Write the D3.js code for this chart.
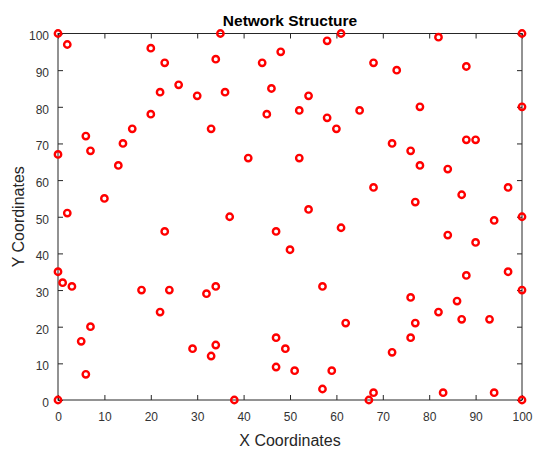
<!DOCTYPE html>
<html><head><meta charset="utf-8">
<script src="https://cdn.jsdelivr.net/npm/d3@7"></script>
<style>body{margin:0;background:#fff}svg{display:block}</style>
</head><body>
<div id="chart"></div>
<script>
const xValues = [0,2,20,23,35,34,26,22,30,36,20,16,33,6,7,0,14,13,10,2,37,41,44,48,46,45,58,61,82,100,68,73,88,54,52,58,60,65,78,100,88,90,72,76,78,84,52,68,77,87,97,54,94,100,61,84,90,50,97,88,57,100,76,86,82,87,93,62,77,76,72,49,51,59,57,68,67,83,94,100,47,47,47,23,0,1,3,18,24,22,32,34,7,5,6,0,29,34,33,38];
const yValues = [100,97,96,92,100,93,86,84,83,84,78,74,74,72,68,67,70,64,55,51,50,66,92,95,85,78,98,100,99,100,92,90,91,83,79,77,74,79,80,80,71,71,70,68,64,63,66,58,54,56,58,52,49,50,47,45,43,41,35,34,31,30,28,27,24,22,22,21,21,17,13,14,8,8,3,2,0,2,2,0,46,17,9,46,35,32,31,30,30,24,29,31,20,16,7,0,14,15,12,0];
const xTicks = [0,10,20,30,40,50,60,70,80,90,100];
const yTicks = [0,10,20,30,40,50,60,70,80,90,100];
const titleText = "Network Structure";
const xLabel = "X Coordinates";
const yLabel = "Y Coordinates";

const W = 550, H = 453;
const m = {left: 58, right: 28, top: 33.5, bottom: 53};
const svg = d3.select("#chart").append("svg").attr("width", W).attr("height", H);
const x = d3.scaleLinear().domain([0,100]).range([m.left, W - m.right]);
const y = d3.scaleLinear().domain([0,100]).range([H - m.bottom, m.top]);
const font = "Arial, 'Liberation Sans', Helvetica, sans-serif";
const axColor = "#262626";

function styleAxis(g, showText) {
  g.select(".domain").remove();
  g.selectAll(".tick line").attr("stroke", axColor).attr("stroke-width", 1);
  g.selectAll(".tick text").attr("fill", "#333333").attr("font-size", 12).attr("font-family", font);
  if (!showText) g.selectAll(".tick text").remove();
}
// bottom
svg.append("g").attr("transform", `translate(0,${y(0)})`)
  .call(d3.axisBottom(x).tickValues(xTicks).tickSizeInner(-5).tickSizeOuter(0).tickPadding(12))
  .call(g => styleAxis(g, true));
// top
svg.append("g").attr("transform", `translate(0,${y(100)})`)
  .call(d3.axisTop(x).tickValues(xTicks).tickSizeInner(-5).tickSizeOuter(0))
  .call(g => styleAxis(g, false));
// left
svg.append("g").attr("transform", `translate(${x(0)},0)`)
  .call(d3.axisLeft(y).tickValues(yTicks).tickSizeInner(-5).tickSizeOuter(0).tickPadding(9))
  .call(g => styleAxis(g, true))
  .call(g => g.selectAll(".tick text").attr("dy", "0.53em"));
// right
svg.append("g").attr("transform", `translate(${x(100)},0)`)
  .call(d3.axisRight(y).tickValues(yTicks).tickSizeInner(-5).tickSizeOuter(0))
  .call(g => styleAxis(g, false));
// box
svg.append("rect").attr("x", x(0)).attr("y", y(100))
  .attr("width", x(100) - x(0)).attr("height", y(0) - y(100))
  .attr("fill", "none").attr("stroke", axColor).attr("stroke-width", 1);

// points
svg.append("g").selectAll("circle").data(xValues.map((v,i) => [v, yValues[i]]))
  .join("circle")
  .attr("cx", d => x(d[0])).attr("cy", d => y(d[1])).attr("r", 3.2)
  .attr("fill", "none").attr("stroke", "#ff0000").attr("stroke-width", 2.4);

// title
svg.append("text").attr("x", (x(0)+x(100))/2).attr("y", 26)
  .attr("text-anchor", "middle").attr("font-family", font).attr("font-weight", "bold")
  .attr("font-size", 15.5).attr("fill", "#000").text(titleText);
// x label
svg.append("text").attr("x", (x(0)+x(100))/2).attr("y", 446)
  .attr("text-anchor", "middle").attr("font-family", font)
  .attr("font-size", 16).attr("fill", "#262626").text(xLabel);
// y label
svg.append("text").attr("transform", `translate(23.5,${(y(0)+y(100))/2}) rotate(-90)`)
  .attr("text-anchor", "middle").attr("font-family", font)
  .attr("font-size", 16).attr("fill", "#262626").text(yLabel);
</script>
</body></html>
